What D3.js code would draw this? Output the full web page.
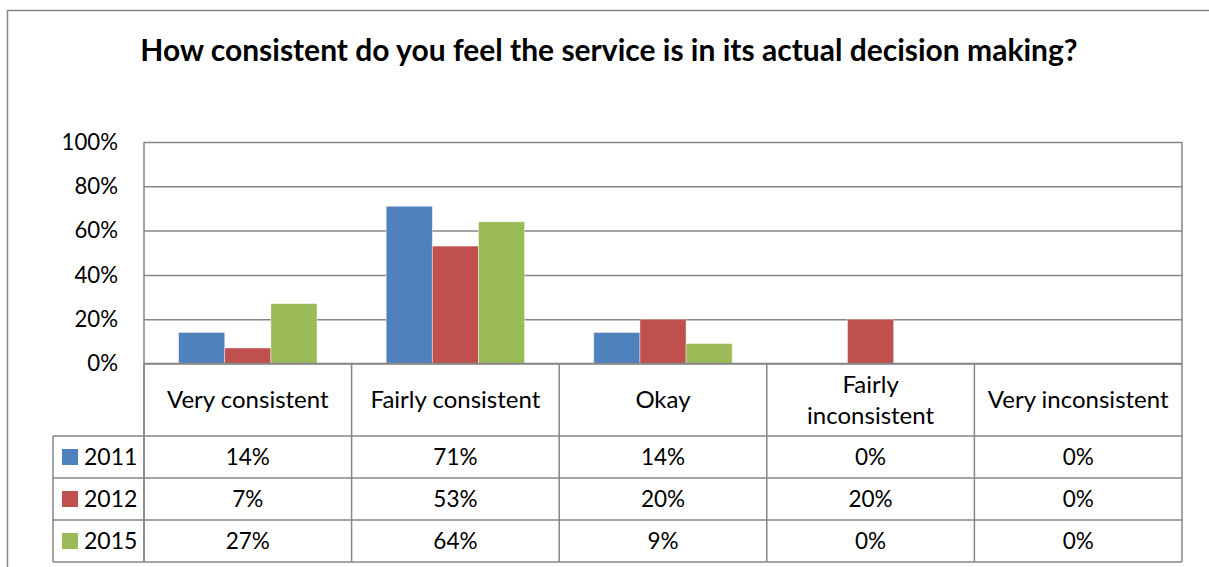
<!DOCTYPE html>
<html><head><meta charset="utf-8">
<script src="https://cdn.jsdelivr.net/npm/d3@7"></script>
<style>body{margin:0;background:#fff;} text{font-family:Lato,"Open Sans",sans-serif;}</style>
</head><body>
<svg id="c" width="1209" height="567"></svg>
<script>
const title = "How consistent do you feel the service is in its actual decision making?";
const categories = ["Very consistent", "Fairly consistent", "Okay", "Fairly inconsistent", "Very inconsistent"];
const categoryLines = [["Very consistent"], ["Fairly consistent"], ["Okay"], ["Fairly", "inconsistent"], ["Very inconsistent"]];
const seriesNames = ["2011", "2012", "2015"];
const s2011 = [14, 71, 14, 0, 0];
const s2012 = [7, 53, 20, 20, 0];
const s2015 = [27, 64, 9, 0, 0];
const colors = ["#4F81BD", "#C0504D", "#9BBB59"];
const yTicks = [0, 20, 40, 60, 80, 100];
const series = [s2011, s2012, s2015];

const svg = d3.select("#c");
const grid = "#868686";
const L = 144, R = 1182, T = 142, B = 363.5;
const rowLines = [363.5, 436, 478, 520, 562];
const legendLeft = 53;

// outer border
svg.append("rect").attr("x", 7.5).attr("y", 10.5).attr("width", 1300).attr("height", 700)
  .attr("fill", "none").attr("stroke", grid).attr("stroke-width", 1.5);

svg.append("text").attr("x", 609).attr("y", 61).attr("text-anchor", "middle")
  .attr("font-size", 30).attr("font-weight", "bold").attr("fill", "#000").text(title);

const x0 = d3.scaleBand().domain(categories).range([L, R]).paddingInner(0).paddingOuter(0);
const x1 = d3.scaleBand().domain(seriesNames).range([0, x0.bandwidth()]).paddingInner(0).paddingOuter(0.75);
const y = d3.scaleLinear().domain([0, 100]).range([B, T]);

// gridlines
const yAxis = d3.axisLeft(y).tickValues(yTicks).tickSize(-(R - L)).tickFormat(d => d + "%");
const ga = svg.append("g").attr("transform", `translate(${L},0)`).call(yAxis);
ga.select(".domain").remove();
ga.selectAll(".tick line").attr("stroke", grid).attr("stroke-width", 1.5);
ga.selectAll(".tick text").attr("x", -26).attr("font-size", 22.2).attr("fill", "#000")
  .attr("font-family", "Lato, sans-serif");

// left axis line
svg.append("line").attr("x1", L).attr("x2", L).attr("y1", T).attr("y2", rowLines[4])
  .attr("stroke", grid).attr("stroke-width", 1.5);

// bars
series.forEach((vals, si) => {
  svg.append("g").selectAll("rect").data(vals).join("rect")
    .attr("x", (d, i) => x0(categories[i]) + x1(seriesNames[si]))
    .attr("y", d => y(d))
    .attr("width", x1.bandwidth())
    .attr("height", d => B - y(d))
    .attr("fill", colors[si])
    .attr("stroke", "#fff").attr("stroke-opacity", 0.5).attr("stroke-width", 0.8);
});

// table
const tl = svg.append("g").attr("stroke", grid).attr("stroke-width", 1.5);
rowLines.forEach((ry, i) => {
  tl.append("line").attr("x1", i === 0 ? L : legendLeft).attr("x2", R).attr("y1", ry).attr("y2", ry);
});
categories.forEach((c, i) => {
  tl.append("line").attr("x1", x0(c)).attr("x2", x0(c)).attr("y1", B).attr("y2", rowLines[4]);
});
tl.append("line").attr("x1", R).attr("x2", R).attr("y1", T).attr("y2", rowLines[4]);
tl.append("line").attr("x1", legendLeft).attr("x2", legendLeft).attr("y1", rowLines[1]).attr("y2", rowLines[4]);

// header labels
categories.forEach((c, i) => {
  const lines = categoryLines[i];
  const cx = x0(c) + x0.bandwidth() / 2;
  const cy = (rowLines[0] + rowLines[1]) / 2;
  const lh = 31;
  lines.forEach((ln, j) => {
    svg.append("text").attr("x", cx).attr("y", cy + (j - (lines.length - 1) / 2) * lh)
      .attr("dy", "0.35em").attr("text-anchor", "middle").attr("font-size", 24).attr("fill", "#000").text(ln);
  });
});

// rows
series.forEach((vals, si) => {
  const cy = (rowLines[si + 1] + rowLines[si + 2]) / 2;
  svg.append("rect").attr("x", 62).attr("y", cy - 8).attr("width", 16).attr("height", 16).attr("fill", colors[si]);
  svg.append("text").attr("x", 84).attr("y", cy).attr("dy", "0.35em").attr("font-size", 23).attr("fill", "#000").text(seriesNames[si]);
  vals.forEach((v, i) => {
    svg.append("text").attr("x", x0(categories[i]) + x0.bandwidth() / 2).attr("y", cy).attr("dy", "0.35em")
      .attr("text-anchor", "middle").attr("font-size", 22.5).attr("fill", "#000").text(v + "%");
  });
});
</script>
</body></html>
